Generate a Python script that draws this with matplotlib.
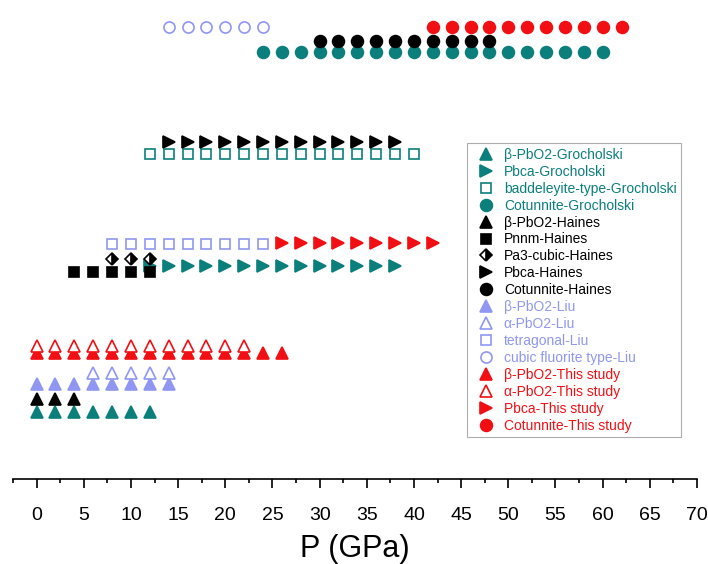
import matplotlib.pyplot as plt
from matplotlib.lines import Line2D

plt.rcParams['font.family'] = ['Liberation Sans', 'DejaVu Sans']

# pressures (GPa) of each observed phase
groch_beta_p = [0, 2, 4, 6, 8, 10, 12]
groch_pbca_p = [12, 14, 16, 18, 20, 22, 24, 26, 28, 30, 32, 34, 36, 38]
groch_badd_p = [12, 14, 16, 18, 20, 22, 24, 26, 28, 30, 32, 34, 36, 38, 40]
groch_cot_p = [24, 26, 28, 30, 32, 34, 36, 38, 40, 42, 44, 46, 48, 50, 52, 54, 56, 58, 60]
haines_beta_p = [0, 2, 4]
haines_pnnm_p = [4, 6, 8, 10, 12]
haines_pa3_p = [8, 10, 12]
haines_pbca_p = [14, 16, 18, 20, 22, 24, 26, 28, 30, 32, 34, 36, 38]
haines_cot_p = [30, 32, 34, 36, 38, 40, 42, 44, 46, 48]
liu_beta_p = [0, 2, 4, 6, 8, 10, 12, 14]
liu_alpha_p = [6, 8, 10, 12, 14]
liu_tetra_p = [8, 10, 12, 14, 16, 18, 20, 22, 24]
liu_fluor_p = [14, 16, 18, 20, 22, 24]
this_beta_p = [0, 2, 4, 6, 8, 10, 12, 14, 16, 18, 20, 22, 24, 26]
this_alpha_p = [0, 2, 4, 6, 8, 10, 12, 14, 16, 18, 20, 22]
this_pbca_p = [26, 28, 30, 32, 34, 36, 38, 40, 42]
this_cot_p = [42, 44, 46, 48, 50, 52, 54, 56, 58, 60, 62]

labels = ['β-PbO2-Grocholski', 'Pbca-Grocholski', 'baddeleyite-type-Grocholski',
          'Cotunnite-Grocholski', 'β-PbO2-Haines', 'Pnnm-Haines', 'Pa3-cubic-Haines',
          'Pbca-Haines', 'Cotunnite-Haines', 'β-PbO2-Liu', 'α-PbO2-Liu',
          'tetragonal-Liu', 'cubic fluorite type-Liu', 'β-PbO2-This study',
          'α-PbO2-This study', 'Pbca-This study', 'Cotunnite-This study']

teal = '#0B7F7C'
blue = '#8F97F2'
red = '#F20F14'

series = [
    # pressures, row height, marker, colour, filled, size
    (groch_beta_p, 67, '^', teal, True, 9),
    (groch_pbca_p, 213, '>', teal, True, 9),
    (groch_badd_p, 325, 's', teal, False, 6.5),
    (groch_cot_p, 427, 'o', teal, True, 8.5),
    (haines_beta_p, 80, '^', 'black', True, 9),
    (haines_pnnm_p, 207, 's', 'black', True, 7),
    (haines_pa3_p, 220, 'D', 'black', 'half', 6.5),
    (haines_pbca_p, 337, '>', 'black', True, 9),
    (haines_cot_p, 438, 'o', 'black', True, 8.5),
    (liu_beta_p, 95, '^', blue, True, 9),
    (liu_alpha_p, 106, '^', blue, False, 8.5),
    (liu_tetra_p, 235, 's', blue, False, 6.5),
    (liu_fluor_p, 452, 'o', blue, False, 8),
    (this_beta_p, 126, '^', red, True, 9),
    (this_alpha_p, 133, '^', red, False, 8.5),
    (this_pbca_p, 236, '>', red, True, 9),
    (this_cot_p, 452, 'o', red, True, 8.5),
]

fig = plt.figure(figsize=(7.08, 5.64), dpi=100)
ax = fig.add_axes([13 / 708, 85 / 564, 684 / 708, 479 / 564])

handles = []
colors = []
for (p, row, m, c, filled, ms), lab in zip(series, labels):
    kw = dict(marker=m, markersize=ms, linestyle='none', markeredgecolor=c,
              markeredgewidth=1.2)
    if filled == 'half':
        kw.update(fillstyle='right', markerfacecolor=c, markerfacecoloralt='white')
    elif filled:
        kw.update(markerfacecolor=c)
    else:
        kw.update(markerfacecolor='white')
    ax.plot(p, [row] * len(p), clip_on=False, **kw)
    handles.append(Line2D([], [], label=lab, **kw))
    colors.append(c)

ax.set_xlim(-2.5, 70)
ax.set_ylim(0, 479)
for s in ['left', 'right', 'top']:
    ax.spines[s].set_visible(False)
ax.spines['bottom'].set_linewidth(1.2)
ax.set_yticks([])
ax.set_xticks(range(0, 71, 5))
ax.set_xticks([x + 2.5 for x in range(-5, 70, 5)], minor=True)
ax.tick_params(axis='x', which='major', direction='out', length=6.5, width=1.2,
               labelsize=14, pad=14)
ax.tick_params(axis='x', which='minor', direction='out', length=3, width=1.2)
ax.set_xlabel('P (GPa)', fontsize=22, labelpad=7)

leg = fig.legend(handles=handles, loc='upper left',
                 bbox_to_anchor=(467 / 708, 1 - 143 / 564), fontsize=10,
                 frameon=True, fancybox=False, borderaxespad=0, borderpad=0.35,
                 labelspacing=0.21, handlelength=2.1, handletextpad=0.2)
leg.get_frame().set_edgecolor('#999999')
leg.get_frame().set_linewidth(0.8)
for t, c in zip(leg.get_texts(), colors):
    t.set_color(c)

fig.savefig('out.png', dpi=100)
